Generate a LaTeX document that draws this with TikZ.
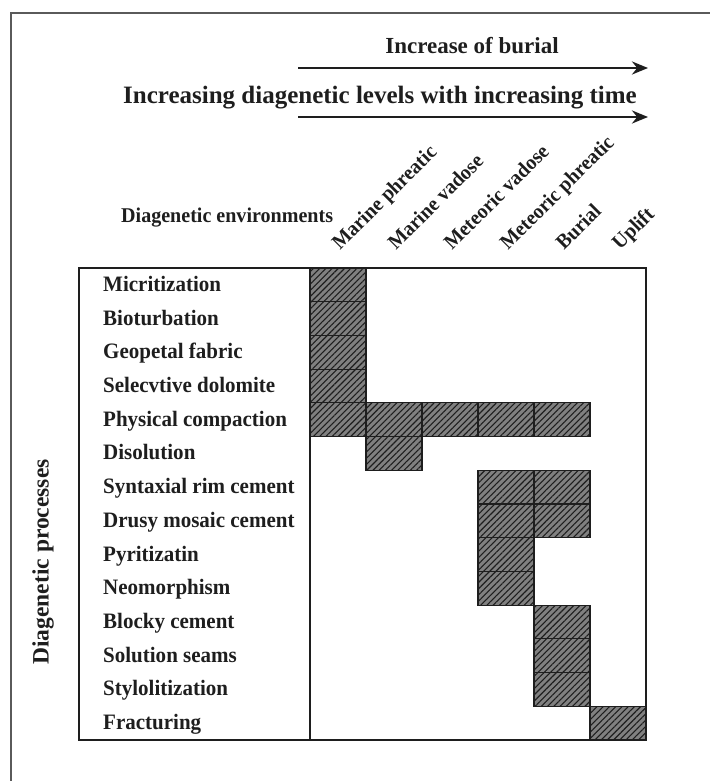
\documentclass[tikz,border=0pt]{standalone}
\usepackage{fontspec}
\setmainfont{Liberation Serif}
\newfontfamily\labfont[FakeStretch=0.955]{Liberation Serif}
\usetikzlibrary{patterns.meta,arrows.meta}
\definecolor{ink}{HTML}{1E1E1E}
\definecolor{cellgray}{HTML}{808080}
\definecolor{framegray}{HTML}{5A5A5A}
\tikzset{
  rowlabel/.style={anchor=base west, inner sep=0pt, font=\labfont\fontsize{22}{26}\selectfont\bfseries, text=ink},
  collabel/.style={anchor=base west, inner sep=0pt, rotate=45, font=\labfont\fontsize{20.8}{23}\selectfont\bfseries, text=ink},
  titletext/.style={anchor=base, inner sep=0pt, font=\fontsize{23}{26}\selectfont\bfseries, text=ink},
  sidetext/.style={anchor=center, inner sep=0pt, rotate=90, font=\fontsize{23.5}{26}\selectfont\bfseries, text=ink},
  bigarrow/.style={-{Stealth[length=16pt,width=13pt]}, line width=2.8pt, draw=ink},
  cellfill/.style={fill=cellgray},
  cellhatch/.style={pattern={Lines[angle=45,distance=4.4pt,line width=1.1pt]}, pattern color=ink},
  cellborder/.style={draw=ink, line width=1.2pt},
}
\begin{document}
\begin{tikzpicture}[x=1pt,y=-1pt]
\useasboundingbox (0,0) rectangle (710,781);
% outer frame
\draw[framegray, line width=1.6pt] (11,781) -- (11,13) -- (710,13);
% arrows and titles
\node[titletext] (t1) at (472,54) {Increase of burial};
\coordinate (a1s) at (298,68);
\coordinate (a1e) at (648,68);
\draw[bigarrow] (a1s) -- (a1e);
\node[titletext, font=\fontsize{25}{28}\selectfont\bfseries] (t2) at (380,103) {Increasing diagenetic levels with increasing time};
\coordinate (a2s) at (298,117);
\coordinate (a2e) at (648,117);
\draw[bigarrow] (a2s) -- (a2e);
% header
\node[titletext, anchor=base west, font=\labfont\fontsize{21}{24}\selectfont\bfseries] (env) at (121,222) {Diagenetic environments};
\foreach \i/\t in {1/Marine phreatic,2/Marine vadose,3/Meteoric vadose,4/Meteoric phreatic,5/Burial,6/Uplift}
  \node[collabel] (c\i) at ({310+(\i-0.5)*56+2},251) {\t};
% hatched cells
\foreach \r/\c in {1/1,2/1,3/1,4/1,5/1,5/2,5/3,5/4,5/5,6/2,7/4,7/5,8/4,8/5,9/4,10/4,11/5,12/5,13/5,14/6}{
  \fill[cellfill] ({310+(\c-1)*56},{268+(\r-1)*33.714}) rectangle ++(56,33.714);
  \fill[cellhatch] ({310+(\c-1)*56},{268+(\r-1)*33.714}) rectangle ++(56,33.714);
  \draw[cellborder] ({310+(\c-1)*56},{268+(\r-1)*33.714}) rectangle ++(56,33.714);
}
% table
\draw[ink, line width=1.8pt] (79,268) rectangle (646,740);
\draw[ink, line width=1.6pt] (310,268) -- (310,740);
% row labels
\foreach \i/\t in {1/Micritization,2/Bioturbation,3/Geopetal fabric,4/Selecvtive dolomite,5/Physical compaction,6/Disolution,7/Syntaxial rim cement,8/Drusy mosaic cement,9/Pyritizatin,10/Neomorphism,11/Blocky cement,12/Solution seams,13/Stylolitization,14/Fracturing}
  \node[rowlabel] (r\i) at (103,{268+(\i-0.5)*33.714+6.5}) {\t};
\node[sidetext] (side) at (43,562) {Diagenetic processes};
\end{tikzpicture}
\end{document}
